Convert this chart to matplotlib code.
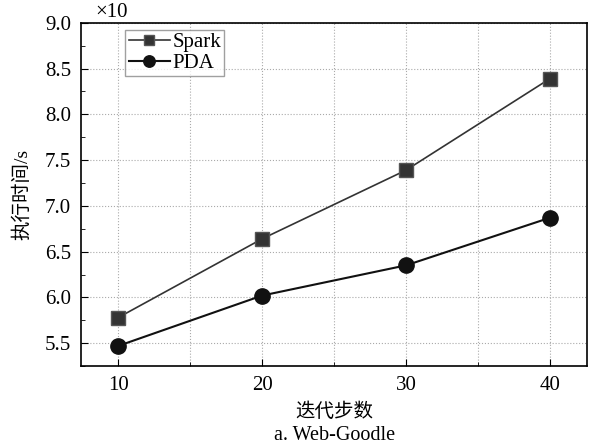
import numpy as np
import matplotlib.pyplot as plt
from matplotlib.ticker import MultipleLocator

plt.rcParams['font.family'] = ['Liberation Serif', 'Noto Sans CJK SC']

steps = [10, 20, 30, 40]
spark = [5.78, 6.64, 7.39, 8.39]
pda = [5.47, 6.02, 6.35, 6.87]

fig = plt.figure(figsize=(5.95, 4.48), dpi=100)
ax = fig.add_axes([0.136, 0.183, 0.851, 0.766])

ax.plot(steps, spark, color='#333333', lw=1.2, marker='s', ms=10,
        mfc='#333333', mec='#555555', label='Spark')
ax.plot(steps, pda, color='#111111', lw=1.5, marker='o', ms=11,
        mfc='#111111', mec='#111111', label='PDA')

ax.set_xlim(7.4, 42.6)
ax.set_ylim(5.25, 9.0)
ax.xaxis.set_major_locator(MultipleLocator(10))
ax.xaxis.set_minor_locator(MultipleLocator(5))
ax.yaxis.set_major_locator(MultipleLocator(0.5))
ax.yaxis.set_minor_locator(MultipleLocator(0.25))
ax.yaxis.set_major_formatter(plt.FormatStrFormatter('%.1f'))

ax.grid(True, which='major', axis='y', ls=':', color='#aaaaaa', lw=0.8)
ax.grid(True, which='both', axis='x', ls=':', color='#aaaaaa', lw=0.8)

ax.tick_params(which='both', direction='in', labelsize=15, top=False, right=False)
ax.tick_params(which='major', length=5, pad=7)
ax.tick_params(which='minor', length=3)
for s in ax.spines.values():
    s.set_linewidth(1.2)

ax.text(0.028, 1.003, '×10', transform=ax.transAxes, fontsize=15, va='bottom')

ax.set_ylabel('执行时间/s', fontsize=14, labelpad=10)
ax.set_xlabel('迭代步数', fontsize=14, va='center')
ax.xaxis.set_label_coords(0.5, -0.134)
fig.text(0.563, 0.029, 'a. Web-Goodle', fontsize=14.5, ha='center', va='center')

leg = ax.legend(loc='upper left', bbox_to_anchor=(0.088, 0.98), fontsize=15,
                frameon=True, fancybox=False, edgecolor='#888888',
                borderpad=0.15, labelspacing=0.05, handlelength=2.0,
                handletextpad=0.1, markerscale=0.75, borderaxespad=0)
leg.get_frame().set_linewidth(1.0)

fig.savefig('out.png')
